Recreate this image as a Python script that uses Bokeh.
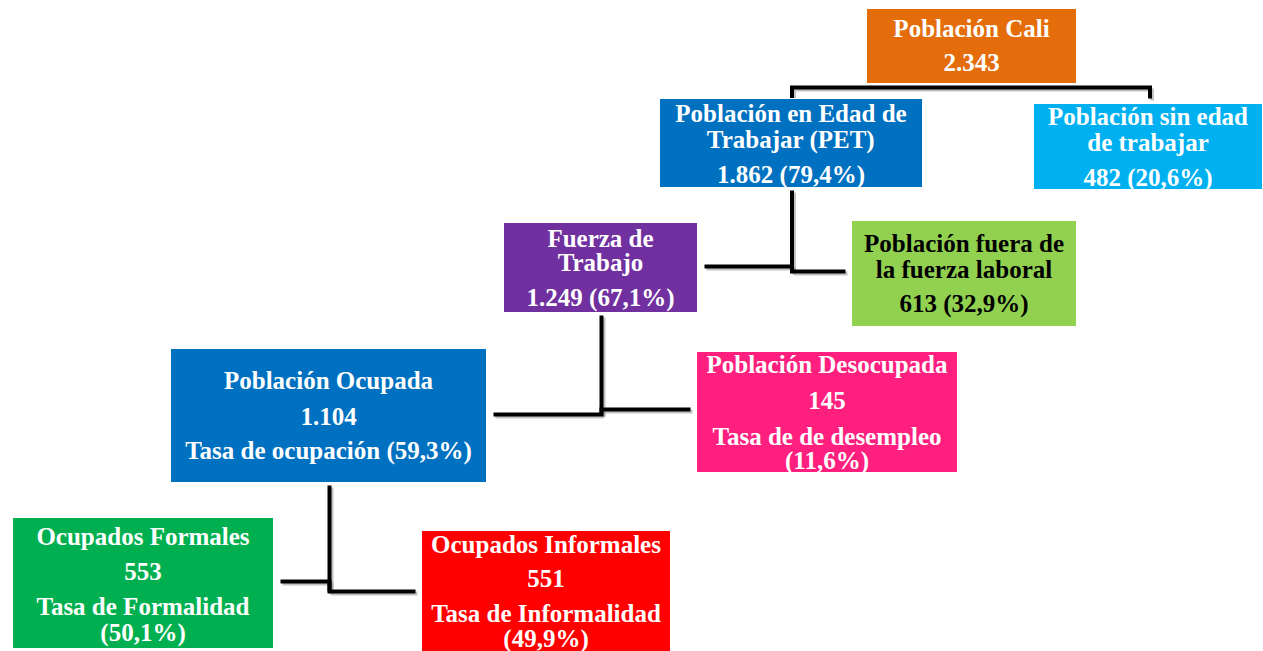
from bokeh.plotting import figure
from bokeh.models import Range1d, ColumnDataSource
from bokeh.core.properties import value
from bokeh.embed import file_html
from bokeh.resources import INLINE

# ---------------- data ----------------
categorias = [
    "Población Cali",
    "Población en Edad de Trabajar (PET)",
    "Población sin edad de trabajar",
    "Fuerza de Trabajo",
    "Población fuera de la fuerza laboral",
    "Población Ocupada",
    "Población Desocupada",
    "Ocupados Formales",
    "Ocupados Informales",
]
valores_miles = [2343, 1862, 482, 1249, 613, 1104, 145, 553, 551]
porcentajes = [None, 79.4, 20.6, 67.1, 32.9, 59.3, 11.6, 50.1, 49.9]
tasas = [None, None, None, None, None,
         "Tasa de ocupación", "Tasa de de desempleo",
         "Tasa de Formalidad", "Tasa de Informalidad"]


def miles(v):
    return f"{v:,}".replace(",", ".")


def pct(p):
    return f"({p:.1f}%)".replace(".", ",")


# ---------------- layout (pixel coordinates of the page) ----------------
boxes = [  # left, right, top, bottom
    (866, 1076, 8, 83),
    (659, 922, 98, 187),
    (1033, 1262, 103, 189),
    (503, 697, 222, 312),
    (851, 1076, 220, 326),
    (170, 486, 348, 482),
    (696, 957, 351, 472),
    (12, 273, 517, 648),
    (421, 670, 530, 651),
]
fills = ["#E46C0A", "#0070C0", "#00B0F0", "#7030A0", "#92D050",
         "#0070C0", "#FF1F7E", "#00B050", "#FF0000"]
text_cols = ["white", "white", "white", "white", "black",
             "white", "white", "white", "white"]
title_wrap = [
    ["Población Cali"],
    ["Población en Edad de", "Trabajar (PET)"],
    ["Población sin edad", "de trabajar"],
    ["Fuerza de", "Trabajo"],
    ["Población fuera de", "la fuerza laboral"],
    ["Población Ocupada"],
    ["Población Desocupada"],
    ["Ocupados Formales"],
    ["Ocupados Informales"],
]
line_y = [
    [28, 62],
    [113, 139, 174],
    [116, 142, 177],
    [238, 262, 297],
    [243, 269, 303],
    [380, 416, 450],
    [364, 400, 436, 460],
    [536, 571, 606, 632],
    [544, 578, 613, 638],
]


def box_lines(i):
    lines = list(title_wrap[i])
    v = miles(valores_miles[i])
    p = porcentajes[i]
    if p is None:
        lines.append(v)
    elif tasas[i] is None:
        lines.append(f"{v} {pct(p)}")
    else:
        lines.append(v)
        full = f"{tasas[i]} {pct(p)}"
        if i == 5:
            lines.append(full)
        else:
            lines.append(tasas[i])
            lines.append(pct(p))
    return lines


W, H = 1263, 651
p = figure(width=W, height=H, output_backend="svg", toolbar_location=None,
           x_range=Range1d(0, W), y_range=Range1d(H, 0),
           min_border=0, border_fill_color="white", background_fill_color="white")
p.axis.visible = False
p.grid.visible = False
p.outline_line_color = None

pc = lambda i: (boxes[i][0] + boxes[i][1]) / 2
conn_xs, conn_ys = [], []
# top: Cali -> PET / sin edad
ytop = boxes[0][3] + 4
conn_xs.append([pc(1) + 1, pc(1) + 1, pc(2) + 2, pc(2) + 2])
conn_ys.append([boxes[1][2] + 1, ytop, ytop, boxes[2][2] - 5])
# (parent, left child, right child, y of left half, y of right half)
steps = [(1, 3, 4, 266, 271), (3, 5, 6, 414, 409), (5, 7, 8, 581, 591)]
for par, lc, rc, yl, yr in steps:
    xv = pc(par) + 1
    conn_xs.append([xv, xv])
    conn_ys.append([boxes[par][3] + 3, max(yl, yr)])
    conn_xs.append([boxes[lc][1] + 7, xv, xv, boxes[rc][0] - 6])
    conn_ys.append([yl, yl, yr, yr])

p.multi_line([[x + 2 for x in xs] for xs in conn_xs],
             [[y + 2 for y in ys] for ys in conn_ys],
             line_color="#888888", line_alpha=0.5, line_width=4)
p.multi_line(conn_xs, conn_ys, line_color="black", line_width=4,
             line_join="miter")

src = ColumnDataSource(dict(
    left=[b[0] for b in boxes], right=[b[1] for b in boxes],
    top=[b[2] for b in boxes], bottom=[b[3] for b in boxes],
    fill=fills))
p.quad(left="left", right="right", top="top", bottom="bottom",
       fill_color="fill", line_color="white", line_width=1, source=src)

tx, ty, tt, tc = [], [], [], []
for i in range(len(boxes)):
    cx = (boxes[i][0] + boxes[i][1]) / 2
    for txt, yy in zip(box_lines(i), line_y[i]):
        tx.append(cx)
        ty.append(yy)
        tt.append(txt)
        tc.append(text_cols[i])

p.text(x=tx, y=ty, text=tt, text_color=tc, text_align="center",
       text_baseline="middle", text_font=value("Liberation Serif"),
       text_font_style="bold", text_font_size="25px")

open("out.html", "w").write(file_html(p, INLINE))
